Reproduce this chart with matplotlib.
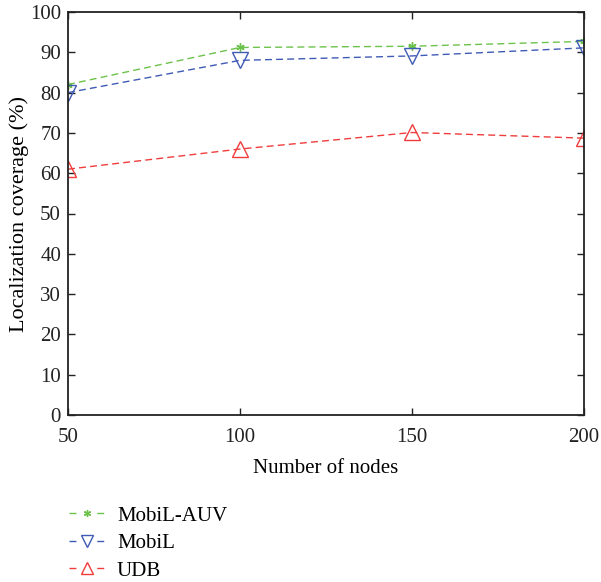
import matplotlib
matplotlib.use("Agg")
import matplotlib.pyplot as plt
from matplotlib.lines import Line2D

nodes = [50, 100, 150, 200]
mobil_auv = [82.0, 91.2, 91.5, 92.7]
mobil = [80.0, 88.0, 89.1, 91.1]
udb = [61.0, 66.0, 70.1, 68.7]
yticks = [0, 10, 20, 30, 40, 50, 60, 70, 80, 90, 100]
labels = ['MobiL-AUV', 'MobiL', 'UDB']

plt.rcParams['font.family'] = ['Liberation Serif', 'DejaVu Serif']
plt.rcParams['font.size'] = 15

fig = plt.figure(figsize=(6.01, 5.82), dpi=100)
ax = fig.add_axes([68/601, 1-415/582, (584-68)/601, (415-12)/582])

styles = [
    dict(color='#6cc24a', marker=(6, 2, 0), markersize=6),
    dict(color='#3f5bb5', marker='v', markersize=11, markerfacecolor='none', markeredgewidth=1.0),
    dict(color='#f03c3c', marker='^', markersize=11, markerfacecolor='none', markeredgewidth=1.0),
]
handles = []
for ys, lab, st in zip([mobil_auv, mobil, udb], labels, styles):
    ax.plot(nodes, ys, linestyle='--', lw=1.0, dashes=(5, 3), label=lab, **st)
    h_st = dict(st)
    h_st['markersize'] = st['markersize'] * 0.85
    handles.append(Line2D([], [], linestyle='--', lw=1.0, dashes=(5, 15), label=lab, **h_st))

ax.set_xlim(50, 200)
ax.set_ylim(0, 100)
ax.set_xticks(nodes)
ax.set_yticks(yticks)
ax.tick_params(direction='in', top=True, right=True, length=5, width=1.0, pad=5,
               colors='#222222', labelsize=15)
ax.tick_params(axis='x', pad=9)
for s in ax.spines.values():
    s.set_linewidth(1.3)
    s.set_color('#222222')
ax.set_xlabel('Number of nodes', labelpad=9, fontsize=15)
ax.set_ylabel('Localization coverage (%)', labelpad=1, fontsize=16)

fig.legend(handles=handles, loc='upper left', bbox_to_anchor=(69/601, 1-506/582),
           frameon=False, handlelength=1.7, handletextpad=0.6, labelspacing=0.38,
           borderpad=0, borderaxespad=0, fontsize=15)

fig.savefig('out.png', dpi=100)
